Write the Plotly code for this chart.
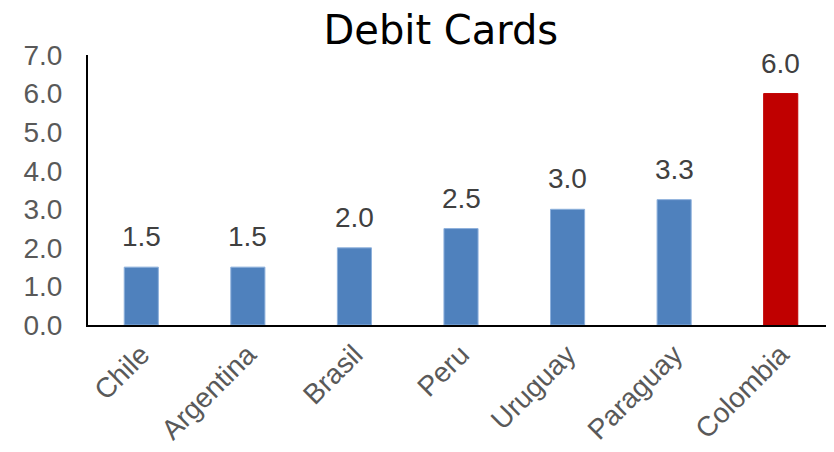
import plotly.graph_objects as go

paises = ['Chile', 'Argentina', 'Brasil', 'Peru', 'Uruguay', 'Paraguay', 'Colombia']
valores = [1.5, 1.5, 2.0, 2.5, 3.0, 3.25, 6.0]
etiquetas = ['1.5', '1.5', '2.0', '2.5', '3.0', '3.3', '6.0']
colores = ['#4F81BD'] * 6 + ['#C00000']
bordes = ['#8DB0DC'] * 6 + ['#C00000']

FUENTE = 'Liberation Sans, Arial'

fig = go.Figure(go.Bar(
    x=paises, y=valores,
    marker_color=colores,
    marker_line_color=bordes, marker_line_width=1,
    hoverinfo='skip',
))

for p, v, t in zip(paises, valores, etiquetas):
    fig.add_annotation(
        x=p, y=v, text=t, showarrow=False,
        yanchor='bottom', yshift=13,
        font=dict(family=FUENTE, size=28, color='#404040'),
    )

# la página tiene 8px de margen en el body: se compensa con el tamaño
fig.update_layout(
    width=826, height=444,
    margin=dict(l=80, r=0, t=47, b=127),
    plot_bgcolor='white', paper_bgcolor='white',
    bargap=0.68,
    showlegend=False,
    title=dict(
        text='Debit Cards', x=0.473, xref='paper', xanchor='center',
        y=0.95, yref='container', yanchor='middle',
        font=dict(family='DejaVu Sans', size=40, color='black'),
    ),
    xaxis=dict(
        showline=True, linecolor='black', linewidth=2,
        tickangle=-45, ticks='', automargin=False,
        tickfont=dict(family=FUENTE, size=28, color='#595959'),
    ),
    yaxis=dict(
        range=[0, 7], dtick=1, tickformat='.1f',
        showline=True, linecolor='black', linewidth=2,
        showgrid=False, zeroline=False, ticks='', automargin=False,
        ticklabelstandoff=18,
        tickfont=dict(family=FUENTE, size=28, color='#595959'),
    ),
)

fig.write_html("out.html")
